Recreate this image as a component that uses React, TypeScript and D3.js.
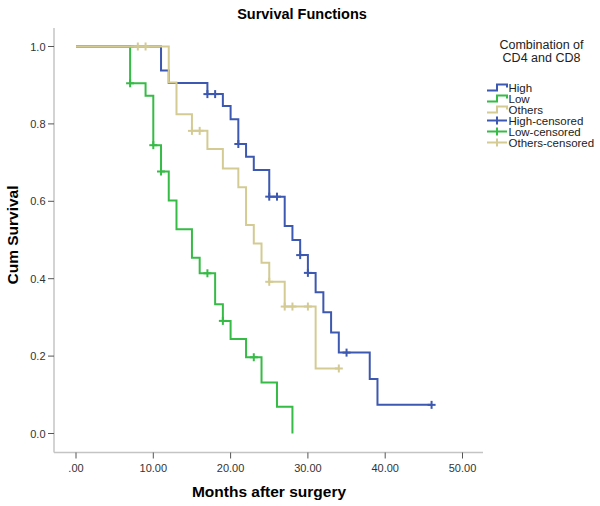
import React from "react";
import * as d3 from "d3";

// ---- Data ----
const highTimes = [0, 11, 12, 17, 19, 20, 21, 22, 23, 25, 27, 28, 29, 30, 31, 32, 33, 34, 38, 39];
const highSurv = [1.0, 0.938, 0.906, 0.877, 0.846, 0.812, 0.748, 0.715, 0.681, 0.612, 0.536, 0.5, 0.461, 0.415, 0.365, 0.313, 0.261, 0.209, 0.141, 0.074];
const highEnd = 46;
const highCensored = [17, 18, 21, 25, 26, 29, 30, 35, 46];

const lowTimes = [0, 7, 9, 10, 11, 12, 13, 15, 16, 18, 19, 20, 22, 24, 26, 28];
const lowSurv = [1.0, 0.905, 0.873, 0.745, 0.677, 0.602, 0.528, 0.454, 0.414, 0.334, 0.291, 0.244, 0.197, 0.132, 0.069, 0.0];
const lowEnd = 28;
const lowCensored = [7, 10, 11, 17, 19, 23];

const othersTimes = [0, 12, 13, 15, 17, 19, 21, 22, 23, 24, 25, 27, 31];
const othersSurv = [1.0, 0.907, 0.825, 0.782, 0.735, 0.685, 0.636, 0.539, 0.491, 0.441, 0.392, 0.328, 0.168];
const othersEnd = 34;
const othersCensored = [8, 9, 15, 16, 25, 27, 28, 30, 34];

const xTicks = [0, 10, 20, 30, 40, 50];
const xTickLabels = [".00", "10.00", "20.00", "30.00", "40.00", "50.00"];
const yTicks = [0, 0.2, 0.4, 0.6, 0.8, 1.0];
const yTickLabels = ["0.0", "0.2", "0.4", "0.6", "0.8", "1.0"];

const groupNames = ["High", "Low", "Others"];
const legendLabels = ["High", "Low", "Others", "High-censored", "Low-censored", "Others-censored"];
const colors = ["#3d58b0", "#36bb46", "#d4cb94"];

const FONT = "Arial, 'Liberation Sans', sans-serif";

export default function App() {
  const W = 600, H = 506;
  const x = d3.scaleLinear().domain([0, 50]).range([76, 462.5]);
  const y = d3.scaleLinear().domain([0, 1]).range([433.5, 46.5]);

  const groups = [
    { times: highTimes, surv: highSurv, end: highEnd, cens: highCensored },
    { times: lowTimes, surv: lowSurv, end: lowEnd, cens: lowCensored },
    { times: othersTimes, surv: othersSurv, end: othersEnd, cens: othersCensored },
  ];

  const line = d3
    .line<[number, number]>()
    .x((d) => x(d[0]))
    .y((d) => y(d[1]))
    .curve(d3.curveStepAfter);

  const survAt = (g: any, t: number) => {
    let s = g.surv[0];
    for (let i = 0; i < g.times.length; i++) if (g.times[i] <= t) s = g.surv[i];
    return s;
  };

  const axisColor = "#c4c4c4";
  const axisLeft = 54;
  const axisBottom = 452.5;

  return (
    <svg width={W} height={H} style={{ position: "absolute", left: 0, top: 0 }}>
      <rect width={W} height={H} fill="#fff" />
      <text x={302} y={19} textAnchor="middle" fontFamily={FONT} fontWeight="bold" fontSize={14.5} fill="#000">
        Survival Functions
      </text>

      {/* axes */}
      <line x1={axisLeft} x2={axisLeft} y1={28} y2={axisBottom} stroke={axisColor} strokeWidth={1.5} />
      <line x1={axisLeft} x2={483} y1={axisBottom} y2={axisBottom} stroke={axisColor} strokeWidth={1.5} />
      {yTicks.map((t, i) => (
        <g key={"y" + i}>
          <line x1={48} x2={axisLeft} y1={y(t)} y2={y(t)} stroke="#555" strokeWidth={1} />
          <text x={45.5} y={y(t) + 4} textAnchor="end" fontFamily={FONT} fontSize={11} fill="#333">
            {yTickLabels[i]}
          </text>
        </g>
      ))}
      {xTicks.map((t, i) => (
        <g key={"x" + i}>
          <line x1={x(t)} x2={x(t)} y1={axisBottom} y2={axisBottom + 6} stroke="#555" strokeWidth={1} />
          <text x={x(t)} y={472} textAnchor="middle" fontFamily={FONT} fontSize={11} fill="#333">
            {xTickLabels[i]}
          </text>
        </g>
      ))}
      <text x={269} y={497} textAnchor="middle" fontFamily={FONT} fontWeight="bold" fontSize={15.5} fill="#000">
        Months after surgery
      </text>
      <text
        transform={`translate(18,235) rotate(-90)`}
        textAnchor="middle"
        fontFamily={FONT}
        fontWeight="bold"
        fontSize={15.5}
        fill="#000"
      >
        Cum Survival
      </text>

      {/* curves */}
      {groups.map((g, gi) => {
        const pts: [number, number][] = g.times.map((t, i) => [t, g.surv[i]] as [number, number]);
        if (g.end > g.times[g.times.length - 1]) pts.push([g.end, g.surv[g.surv.length - 1]]);
        return (
          <g key={"g" + gi}>
            <path d={line(pts) || ""} fill="none" stroke={colors[gi]} strokeWidth={2} />
            {g.cens.map((c, ci) => {
              const cx = x(c), cy = y(survAt(g, c));
              return (
                <g key={ci} stroke={colors[gi]} strokeWidth={2}>
                  <line x1={cx - 4} x2={cx + 4} y1={cy} y2={cy} />
                  <line x1={cx} x2={cx} y1={cy - 4} y2={cy + 4} />
                </g>
              );
            })}
          </g>
        );
      })}

      {/* legend */}
      <text x={541.5} y={48.5} textAnchor="middle" fontFamily={FONT} fontSize={12.5} fill="#222">
        Combination of
      </text>
      <text x={541.5} y={62} textAnchor="middle" fontFamily={FONT} fontSize={12.5} fill="#222">
        CD4 and CD8
      </text>
      {legendLabels.map((lab, i) => {
        const ly = 87.5 + i * 11;
        const col = colors[i % 3];
        return (
          <g key={"l" + i}>
            {i < 3 ? (
              <path
                d={`M487,${ly + 3}H497V${ly - 3}H507V${ly}`}
                fill="none"
                stroke={col}
                strokeWidth={2}
              />
            ) : (
              <g stroke={col} strokeWidth={2}>
                <line x1={487} x2={507} y1={ly} y2={ly} />
                <line x1={497} x2={497} y1={ly - 4} y2={ly + 4} />
              </g>
            )}
            <text x={508.5} y={ly + 4} fontFamily={FONT} fontSize={11.5} fill="#222">
              {lab}
            </text>
          </g>
        );
      })}
    </svg>
  );
}
